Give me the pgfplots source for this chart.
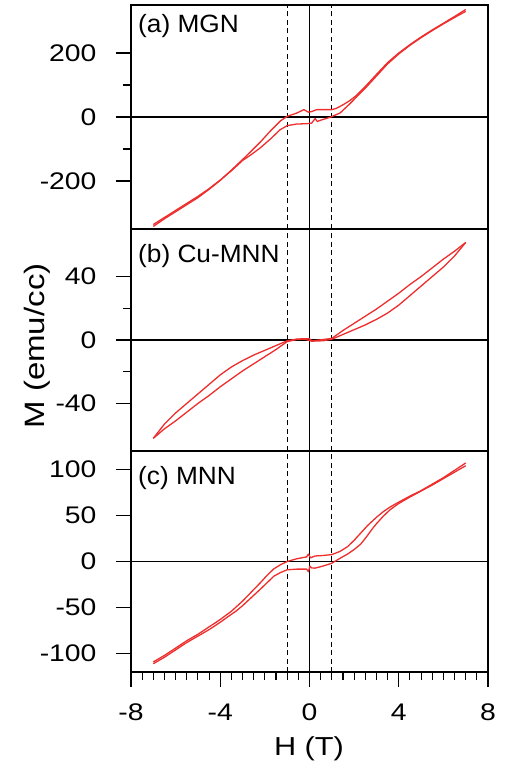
\documentclass[border=0pt]{standalone}
\usepackage{pgfplots}
\pgfplotsset{compat=1.18}
\usepackage{fontspec}
\setmainfont{Liberation Sans}
\newfontfamily\widefont[FakeStretch=1.18]{Liberation Sans}
\newfontfamily\panelfont[FakeStretch=1.05]{Liberation Sans}
\definecolor{curve}{RGB}{238,45,45}

\pgfplotstableread{
x y
7.0 336
6.5 314
6.0 293
5.5 272
5.0 250
4.5 226
4.0 200
3.5 170
3.0 133
2.5 95
2.1 67
1.8 51
1.5 38
1.2 27
1.0 23
0.6 23
0.32 23
0.1 17
-0.05 15
-0.25 23
-0.4 18
-0.58 12
-1.0 2
-1.3 -12
-1.77 -45
-2.2 -78
-2.6 -106
-3.0 -133
-3.5 -166
-4.0 -198
-4.5 -226
-5.0 -252
-5.5 -274
-6.0 -296
-6.5 -318
-7.0 -342
}\upA
\pgfplotstableread{
x y
-7.0 -336
-6.5 -314
-6.0 -292
-5.5 -270
-5.0 -248
-4.5 -224
-4.0 -197
-3.5 -168
-3.0 -136
-2.6 -117
-2.2 -96
-1.77 -70
-1.32 -40
-1.0 -27
-0.58 -22
-0.13 -21
0.1 -19
0.25 -5
0.35 -14
0.5 -10
0.92 -1
1.37 12.5
1.82 42
2.1 62
2.5 90
3.0 128
3.5 166
4.0 197
4.5 224
5.0 248
5.5 270
6.0 291
6.5 311
7.0 330
}\loA
\pgfplotstableread{
x y
7.0 61.5
6.5 56
6.0 51
5.5 45.5
5.0 40
4.5 35
4.0 29.5
3.5 24.5
3.0 19.5
2.5 15
2.0 10.5
1.5 6
1.0 1
0.6 0.3
0.25 -0.3
0.1 -0.5
0.0 0.8
-0.2 0.8
-0.57 0.6
-1.0 -0.5
-1.5 -3.5
-2.0 -6.5
-2.5 -9.5
-3.0 -13
-3.5 -17
-4.0 -22
-4.5 -28
-5.0 -34
-5.5 -40
-6.0 -46
-6.5 -53
-7.0 -62
}\upB
\pgfplotstableread{
x y
-7.0 -62
-6.5 -56
-6.0 -51
-5.5 -45.5
-5.0 -40
-4.5 -35
-4.0 -29.5
-3.5 -24.5
-3.0 -19.5
-2.5 -15
-2.0 -10.5
-1.5 -6
-1.0 -1
-0.57 0.3
-0.2 0.5
0.1 -0.8
0.3 -0.6
0.6 -0.5
1.0 0.5
1.5 3.5
2.0 6.5
2.5 9.5
3.0 13
3.5 17
4.0 22
4.5 28
5.0 34
5.5 40
6.0 46
6.5 53
7.0 61.5
}\loB
\pgfplotstableread{
x y
7.0 107
6.5 99
6.0 91
5.5 84
5.0 77
4.5 71
4.0 64.5
3.6 59
3.3 54
3.0 48
2.6 39
2.3 31
2.0 23
1.7 16
1.37 11
1.0 7.5
0.6 6.5
0.25 6
0.05 4
-0.05 8
-0.13 5
-0.57 3
-1.0 0
-1.3 -3.5
-1.6 -8
-1.9 -15
-2.2 -23
-2.6 -33
-3.0 -43
-3.5 -54
-4.0 -63
-4.5 -71
-5.0 -79
-5.5 -86
-6.0 -94
-6.5 -102
-7.0 -109
}\upC
\pgfplotstableread{
x y
-7.0 -111
-6.5 -104
-6.0 -96
-5.5 -88
-5.0 -81
-4.5 -74
-4.0 -66
-3.6 -59
-3.3 -54
-3.0 -48
-2.6 -39
-2.2 -30
-1.9 -23
-1.6 -16
-1.3 -12
-1.0 -9
-0.57 -8.3
-0.13 -8.3
-0.05 -11
0.02 -5
0.1 -7
0.25 -7.2
0.6 -5
0.99 -2
1.37 3.5
1.7 8
2.0 13
2.3 19
2.56 27
2.8 35
3.0 41
3.3 49
3.6 56
4.0 63
4.5 70
5.0 76.5
5.5 83
6.0 90
6.5 97
7.0 104
}\loC

\pgfplotsset{
  panel/.style={
    scale only axis, width=357pt, xmin=-8, xmax=8,
    axis line style={line width=1.1pt},
    every tick/.style={black, line width=1.1pt},
    tick align=outside,
    xtick pos=bottom, ytick pos=left,
    major tick length=15pt, minor tick length=8pt,
    /pgf/number format/assume math mode=true,
    tick label style={font=\widefont\fontsize{24}{28}\selectfont},
    yticklabel style={xshift=-16pt},
    xticklabel style={yshift=-13pt},
  },
}
\tikzset{
  refl/.style={black, line width=1.3pt},
  dashl/.style={black, line width=0.8pt, dash pattern=on 5pt off 3.5pt},
  crv/.style={curve, line width=1.3pt, line join=round},
  plab/.style={font=\panelfont\fontsize{25}{30}\selectfont, inner sep=0pt, anchor=base west},
}

\begin{document}
\begin{tikzpicture}
\path[use as bounding box] (-131pt,-94pt) rectangle (375pt,672pt);

% panel (c)
\begin{axis}[panel, at={(0pt,0pt)}, anchor=south west, height=221pt,
  ymin=-120, ymax=120, ytick={-100,-50,0,50,100},
  xtick={-8,-4,0,4,8}, minor x tick num=7]
\addplot[refl] coordinates {(-8,0) (8,0)};
\addplot[refl] coordinates {(0,-120) (0,120)};
\addplot[dashl] coordinates {(-1,-120) (-1,120)};
\addplot[dashl] coordinates {(1,-120) (1,120)};
\addplot[crv] table[x=x,y=y] {\upC};
\addplot[crv] table[x=x,y=y] {\loC};
\node[plab] at (rel axis cs:0,1) [xshift=7pt, yshift=-33pt] {(c) MNN};
\end{axis}

% panel (b)
\begin{axis}[panel, at={(0pt,221pt)}, anchor=south west, height=222pt,
  ymin=-70, ymax=70, ytick={-40,0,40}, minor y tick num=1,
  xtick=\empty]
\addplot[refl] coordinates {(-8,0) (8,0)};
\addplot[refl] coordinates {(0,-70) (0,70)};
\addplot[dashl] coordinates {(-1,-70) (-1,70)};
\addplot[dashl] coordinates {(1,-70) (1,70)};
\addplot[crv] table[x=x,y=y] {\upB};
\addplot[crv] table[x=x,y=y] {\loB};
\node[plab] at (rel axis cs:0,1) [xshift=7pt, yshift=-34pt] {(b) Cu-MNN};
\end{axis}

% panel (a)
\begin{axis}[panel, at={(0pt,443pt)}, anchor=south west, height=224pt,
  ymin=-350, ymax=350, ytick={-200,0,200}, minor y tick num=1,
  xtick=\empty]
\addplot[refl] coordinates {(-8,0) (8,0)};
\addplot[refl] coordinates {(0,-350) (0,350)};
\addplot[dashl] coordinates {(-1,-350) (-1,350)};
\addplot[dashl] coordinates {(1,-350) (1,350)};
\addplot[crv] table[x=x,y=y] {\upA};
\addplot[crv] table[x=x,y=y] {\loA};
\node[plab] at (rel axis cs:0,1) [xshift=7pt, yshift=-28pt] {(a) MGN};
\end{axis}

\node[rotate=90, font=\widefont\fontsize{28}{32}\selectfont] at (-94pt,326pt) {M (emu/cc)};
\node[font=\widefont\fontsize{26}{30}\selectfont] at (178pt,-77pt) {H (T)};
\end{tikzpicture}
\end{document}
